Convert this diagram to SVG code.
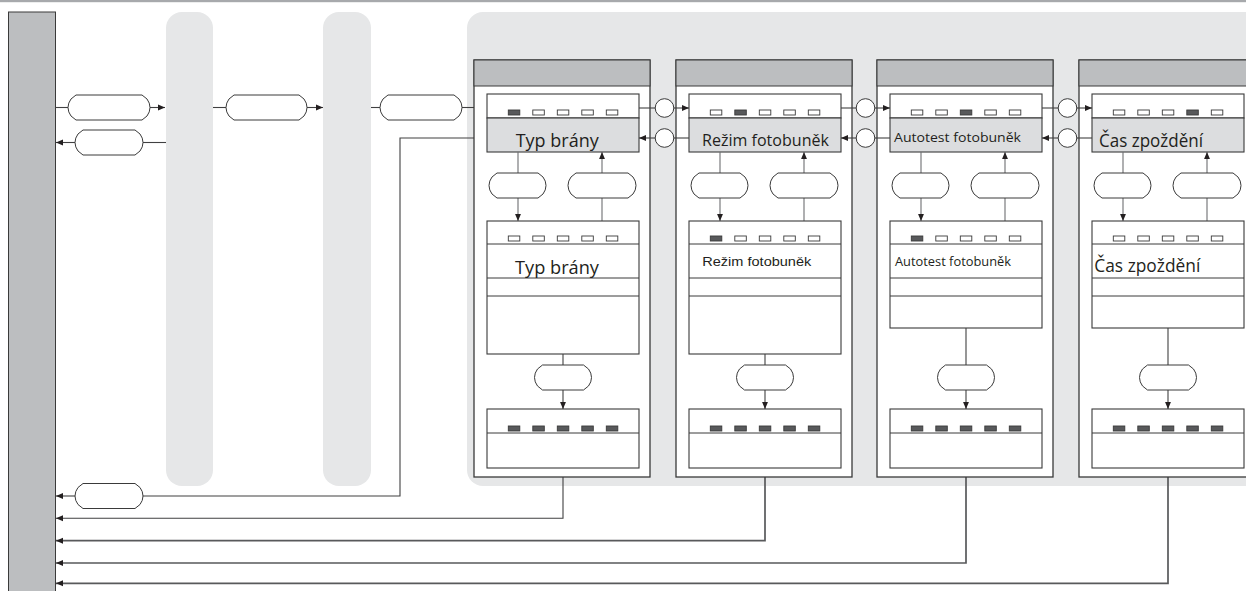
<svg xmlns="http://www.w3.org/2000/svg" xmlns:xlink="http://www.w3.org/1999/xlink" width="1246" height="591" viewBox="0 0 1246 591">
<style>
.lane{fill:#e6e7e8}
.bar{fill:#bcbec0;stroke:#3a3a3a;stroke-width:1}
.outer{fill:#ffffff;stroke:#3a3a3a;stroke-width:1.3}
.hdr{fill:#bcbec0;stroke:#3a3a3a;stroke-width:1}
.box{fill:#ffffff;stroke:#3a3a3a;stroke-width:1.1}
.lbl{fill:#dcdddf;stroke:#3a3a3a;stroke-width:1.1}
.sep{stroke:#3a3a3a;stroke-width:1;fill:none}
.ind{fill:#ffffff;stroke:#3a3a3a;stroke-width:0.9}
.indd{fill:#58595b;stroke:#3a3a3a;stroke-width:0.9}
.pill{fill:#ffffff;stroke:#3a3a3a;stroke-width:1}
.ln{fill:none;stroke:#404041;stroke-width:1.1}
.lng{fill:none;stroke:#6d6e71;stroke-width:1.1}
.lnb{fill:none;stroke:#58595b;stroke-width:1.7}
.arr{marker-end:url(#ah)}
.jn{fill:#ffffff;stroke:#3a3a3a;stroke-width:1}
.tc{font-family:'Open Sans','Noto Sans',sans-serif;fill:#231f20}
.ta{font-family:'Liberation Sans',Arial,sans-serif;fill:#231f20}
</style>
<defs>
<marker id="ah" viewBox="0 0 10 10" refX="10" refY="5" markerWidth="7" markerHeight="7" markerUnits="userSpaceOnUse" orient="auto">
<path d="M0,0.8 L10,5 L0,9.2 Z" fill="#231f20"/>
</marker>
<path id="p82" class="pill" d="M8,0 H74 L79,4 Q82,8 82,12.5 Q82,17 79,21 L74,25 H8 L3,21 Q0,17 0,12.5 Q0,8 3,4 Z"/>
<path id="p81" class="pill" d="M8,0 H73 L78,4 Q81,8 81,12.5 Q81,17 78,21 L73,25 H8 L3,21 Q0,17 0,12.5 Q0,8 3,4 Z"/>
<path id="p68" class="pill" d="M8,0 H60 L65,4 Q68,8 68,12.5 Q68,17 65,21 L60,25 H8 L3,21 Q0,17 0,12.5 Q0,8 3,4 Z"/>
<path id="p57" class="pill" d="M8,0 H49 L54,4 Q57,8 57,12.5 Q57,17 54,21 L49,25 H8 L3,21 Q0,17 0,12.5 Q0,8 3,4 Z"/>
</defs>

<rect x="0" y="0" width="1246" height="591" fill="#ffffff"/>
<rect x="0" y="0" width="1246" height="2.2" fill="#a7a9ac"/>

<g id="lanes">
<rect class="lane" x="166" y="12" width="47" height="474" rx="16" ry="16"/>
<rect class="lane" x="323" y="12" width="48" height="474" rx="16" ry="16"/>
<rect class="lane" x="467" y="12" width="800" height="474" rx="16" ry="16"/>
</g>

<g id="controller">
<rect class="bar" x="8.5" y="12" width="47" height="590"/>
</g>

<g id="connectors">
<!-- top row -->
<path class="ln" d="M55.5,107.5 H68"/>
<path class="ln arr" d="M150,107.5 H165"/>
<path class="ln" d="M213,107.5 H226"/>
<path class="ln arr" d="M307,107.5 H323"/>
<path class="ln" d="M371,107.5 H380"/>
<path class="ln arr" d="M462,107.5 H487"/>
<!-- return row -->
<path class="ln" d="M166,142.5 H143"/>
<path class="ln arr" d="M75,142.5 H56"/>
<!-- loop back -->
<path class="ln" d="M487,138 H400 V496 H143"/>
<path class="ln arr" d="M75,496 H56"/>
<!-- node to controller -->
<path class="ln arr" d="M563,477 V518.3 H56"/>
<path class="lnb arr" d="M765,477 V540.7 H56"/>
<path class="lnb arr" d="M966,477 V563 H56"/>
<path class="lnb arr" d="M1168,477 V583.3 H56"/>
</g>

<g id="row-pills">
<use href="#p82" x="68" y="95"/>
<use href="#p81" x="226" y="95"/>
<use href="#p82" x="380" y="95"/>
<use href="#p68" x="75" y="130"/>
<use href="#p68" x="75" y="483.5"/>
</g>

<g id="node1" transform="translate(474,0)">
<rect class="outer" x="0" y="60" width="176" height="417"/>
<rect class="hdr" x="0" y="60" width="176" height="26"/>
<rect class="box" x="13" y="94" width="152" height="24"/>
<rect class="lbl" x="13" y="118" width="152" height="34"/>
<rect class="indd" x="34.3" y="110" width="11.5" height="5"/>
<rect class="ind" x="58.8" y="110" width="11.5" height="5"/>
<rect class="ind" x="83.3" y="110" width="11.5" height="5"/>
<rect class="ind" x="107.8" y="110" width="11.5" height="5"/>
<rect class="ind" x="132.3" y="110" width="11.5" height="5"/>
<text class="tc" x="41.7" y="147.3" font-size="19" textLength="83" lengthAdjust="spacingAndGlyphs">Typ brány</text>
<path class="lng arr" d="M44,152 V221"/>
<path class="lng arr" d="M128,221 V152"/>
<use href="#p57" x="15" y="173"/>
<use href="#p68" x="94" y="173"/>
<rect class="box" x="13" y="221" width="152" height="133"/>
<path class="sep" d="M13,244 H165 M13,278 H165 M13,296 H165"/>
<rect class="ind" x="34.3" y="236" width="11.5" height="5"/>
<rect class="ind" x="58.8" y="236" width="11.5" height="5"/>
<rect class="ind" x="83.3" y="236" width="11.5" height="5"/>
<rect class="ind" x="107.8" y="236" width="11.5" height="5"/>
<rect class="ind" x="132.3" y="236" width="11.5" height="5"/>
<text class="tc" x="41" y="274" font-size="19" textLength="84" lengthAdjust="spacingAndGlyphs">Typ brány</text>
<path class="ln arr" d="M89,354 V409"/>
<use href="#p57" x="60.5" y="365"/>
<rect class="box" x="13" y="409" width="152" height="59"/>
<path class="sep" d="M13,433 H165"/>
<rect class="indd" x="34.3" y="426" width="11.5" height="5"/>
<rect class="indd" x="58.8" y="426" width="11.5" height="5"/>
<rect class="indd" x="83.3" y="426" width="11.5" height="5"/>
<rect class="indd" x="107.8" y="426" width="11.5" height="5"/>
<rect class="indd" x="132.3" y="426" width="11.5" height="5"/>
</g>

<g id="node2" transform="translate(676,0)">
<rect class="outer" x="0" y="60" width="176" height="417"/>
<rect class="hdr" x="0" y="60" width="176" height="26"/>
<rect class="box" x="13" y="94" width="152" height="24"/>
<rect class="lbl" x="13" y="118" width="152" height="34"/>
<rect class="ind" x="34.3" y="110" width="11.5" height="5"/>
<rect class="indd" x="58.8" y="110" width="11.5" height="5"/>
<rect class="ind" x="83.3" y="110" width="11.5" height="5"/>
<rect class="ind" x="107.8" y="110" width="11.5" height="5"/>
<rect class="ind" x="132.3" y="110" width="11.5" height="5"/>
<text class="tc" x="26" y="145.7" font-size="17" textLength="127" lengthAdjust="spacingAndGlyphs">Režim fotobuněk</text>
<path class="lng arr" d="M44,152 V221"/>
<path class="lng arr" d="M128,221 V152"/>
<use href="#p57" x="15" y="173"/>
<use href="#p68" x="94" y="173"/>
<rect class="box" x="13" y="221" width="152" height="133"/>
<path class="sep" d="M13,244 H165 M13,278 H165 M13,296 H165"/>
<rect class="indd" x="34.3" y="236" width="11.5" height="5"/>
<rect class="ind" x="58.8" y="236" width="11.5" height="5"/>
<rect class="ind" x="83.3" y="236" width="11.5" height="5"/>
<rect class="ind" x="107.8" y="236" width="11.5" height="5"/>
<rect class="ind" x="132.3" y="236" width="11.5" height="5"/>
<text class="ta" x="26.3" y="265.7" font-size="13" textLength="109" lengthAdjust="spacingAndGlyphs">Režim fotobuněk</text>
<path class="ln arr" d="M89,354 V409"/>
<use href="#p57" x="60.5" y="365"/>
<rect class="box" x="13" y="409" width="152" height="59"/>
<path class="sep" d="M13,433 H165"/>
<rect class="indd" x="34.3" y="426" width="11.5" height="5"/>
<rect class="indd" x="58.8" y="426" width="11.5" height="5"/>
<rect class="indd" x="83.3" y="426" width="11.5" height="5"/>
<rect class="indd" x="107.8" y="426" width="11.5" height="5"/>
<rect class="indd" x="132.3" y="426" width="11.5" height="5"/>
</g>

<g id="node3" transform="translate(877,0)">
<rect class="outer" x="0" y="60" width="176" height="417"/>
<rect class="hdr" x="0" y="60" width="176" height="26"/>
<rect class="box" x="13" y="94" width="152" height="24"/>
<rect class="lbl" x="13" y="118" width="152" height="34"/>
<rect class="ind" x="34.3" y="110" width="11.5" height="5"/>
<rect class="ind" x="58.8" y="110" width="11.5" height="5"/>
<rect class="indd" x="83.3" y="110" width="11.5" height="5"/>
<rect class="ind" x="107.8" y="110" width="11.5" height="5"/>
<rect class="ind" x="132.3" y="110" width="11.5" height="5"/>
<text class="tc" x="17" y="142.3" font-size="13.5" textLength="127" lengthAdjust="spacingAndGlyphs">Autotest fotobuněk</text>
<path class="lng arr" d="M44,152 V221"/>
<path class="lng arr" d="M128,221 V152"/>
<use href="#p57" x="15" y="173"/>
<use href="#p68" x="94" y="173"/>
<rect class="box" x="13" y="221" width="152" height="107"/>
<path class="sep" d="M13,244 H165 M13,278 H165 M13,296 H165"/>
<rect class="indd" x="34.3" y="236" width="11.5" height="5"/>
<rect class="ind" x="58.8" y="236" width="11.5" height="5"/>
<rect class="ind" x="83.3" y="236" width="11.5" height="5"/>
<rect class="ind" x="107.8" y="236" width="11.5" height="5"/>
<rect class="ind" x="132.3" y="236" width="11.5" height="5"/>
<text class="tc" x="18" y="265.7" font-size="12.5" textLength="116" lengthAdjust="spacingAndGlyphs">Autotest fotobuněk</text>
<path class="ln arr" d="M89,328 V409"/>
<use href="#p57" x="60.5" y="365"/>
<rect class="box" x="13" y="409" width="152" height="59"/>
<path class="sep" d="M13,433 H165"/>
<rect class="indd" x="34.3" y="426" width="11.5" height="5"/>
<rect class="indd" x="58.8" y="426" width="11.5" height="5"/>
<rect class="indd" x="83.3" y="426" width="11.5" height="5"/>
<rect class="indd" x="107.8" y="426" width="11.5" height="5"/>
<rect class="indd" x="132.3" y="426" width="11.5" height="5"/>
</g>

<g id="node4" transform="translate(1079,0)">
<rect class="outer" x="0" y="60" width="176" height="417"/>
<rect class="hdr" x="0" y="60" width="176" height="26"/>
<rect class="box" x="13" y="94" width="152" height="24"/>
<rect class="lbl" x="13" y="118" width="152" height="34"/>
<rect class="ind" x="34.3" y="110" width="11.5" height="5"/>
<rect class="ind" x="58.8" y="110" width="11.5" height="5"/>
<rect class="ind" x="83.3" y="110" width="11.5" height="5"/>
<rect class="indd" x="107.8" y="110" width="11.5" height="5"/>
<rect class="ind" x="132.3" y="110" width="11.5" height="5"/>
<text class="tc" x="20" y="147.3" font-size="18" textLength="104" lengthAdjust="spacingAndGlyphs">Čas zpoždění</text>
<path class="lng arr" d="M44,152 V221"/>
<path class="lng arr" d="M128,221 V152"/>
<use href="#p57" x="15" y="173"/>
<use href="#p68" x="94" y="173"/>
<rect class="box" x="13" y="221" width="152" height="107"/>
<path class="sep" d="M13,244 H165 M13,278 H165 M13,296 H165"/>
<rect class="ind" x="34.3" y="236" width="11.5" height="5"/>
<rect class="ind" x="58.8" y="236" width="11.5" height="5"/>
<rect class="ind" x="83.3" y="236" width="11.5" height="5"/>
<rect class="ind" x="107.8" y="236" width="11.5" height="5"/>
<rect class="ind" x="132.3" y="236" width="11.5" height="5"/>
<text class="tc" x="15.3" y="272.3" font-size="18" textLength="106" lengthAdjust="spacingAndGlyphs">Čas zpoždění</text>
<path class="ln arr" d="M89,328 V409"/>
<use href="#p57" x="60.5" y="365"/>
<rect class="box" x="13" y="409" width="152" height="59"/>
<path class="sep" d="M13,433 H165"/>
<rect class="indd" x="34.3" y="426" width="11.5" height="5"/>
<rect class="indd" x="58.8" y="426" width="11.5" height="5"/>
<rect class="indd" x="83.3" y="426" width="11.5" height="5"/>
<rect class="indd" x="107.8" y="426" width="11.5" height="5"/>
<rect class="indd" x="132.3" y="426" width="11.5" height="5"/>
</g>

<g id="links">
<path class="ln" d="M639,108 H655.2"/>
<path class="ln arr" d="M673.8,108 H689"/>
<path class="ln" d="M689,138 H673.8"/>
<path class="ln arr" d="M655.2,138 H639"/>
<path class="ln" d="M841,108 H856.2"/>
<path class="ln arr" d="M874.8,108 H890"/>
<path class="ln" d="M890,138 H874.8"/>
<path class="ln arr" d="M856.2,138 H841"/>
<path class="ln" d="M1042,108 H1058.2"/>
<path class="ln arr" d="M1076.8,108 H1092"/>
<path class="ln" d="M1092,138 H1076.8"/>
<path class="ln arr" d="M1058.2,138 H1042"/>
<circle class="jn" cx="664.5" cy="108" r="9.3"/>
<circle class="jn" cx="664.5" cy="138" r="9.3"/>
<circle class="jn" cx="865.5" cy="108" r="9.3"/>
<circle class="jn" cx="865.5" cy="138" r="9.3"/>
<circle class="jn" cx="1067.5" cy="108" r="9.3"/>
<circle class="jn" cx="1067.5" cy="138" r="9.3"/>
</g>
</svg>
